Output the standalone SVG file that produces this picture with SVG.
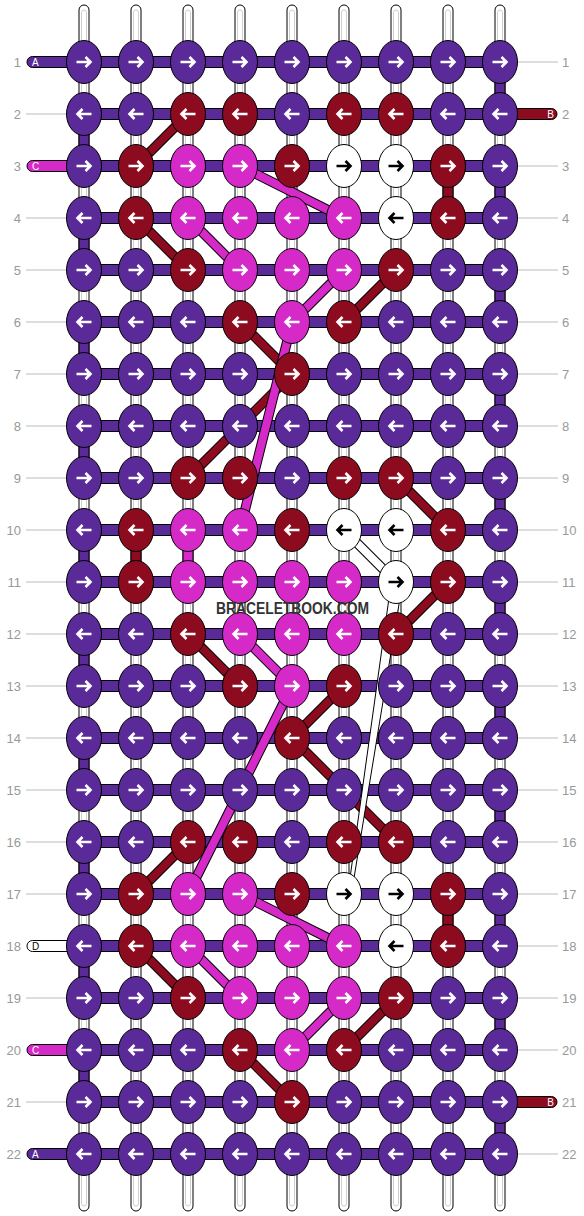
<svg xmlns="http://www.w3.org/2000/svg" xmlns:xlink="http://www.w3.org/1999/xlink" width="584" height="1216" viewBox="0 0 584 1216">
<style>
.tube{fill:#fff;stroke:#000;stroke-width:1}
.tin{fill:none;stroke:#cfcfcf;stroke-width:1}
.gl{stroke:#bbb;stroke-width:1}
.bar{fill:#5a2a98;stroke:#000;stroke-width:1}
.vp{fill:#5a2a98;stroke:#000;stroke-width:1}
.vr{fill:#8c0b1f;stroke:#000;stroke-width:1}
.vm{fill:#d52ac8;stroke:#000;stroke-width:1}
.o{stroke:#000;stroke-width:10;stroke-linecap:butt}
.dr{stroke:#8c0b1f;stroke-width:8}
.dm{stroke:#d52ac8;stroke-width:8}
.dw{stroke:#fff;stroke-width:8}
.num{font-family:"Liberation Sans",Arial,sans-serif;font-size:13px;fill:#999}
.lt{font-family:"Liberation Sans",Arial,sans-serif;font-size:10px;fill:#fff}
.wm{font-family:"Liberation Sans",Arial,sans-serif;font-size:16px;font-weight:bold;fill:#333}
</style>
<defs>
<ellipse id="P" rx="17.5" ry="21.5" fill="#5a2a98" stroke="#000"/>
<ellipse id="R" rx="17.5" ry="21.5" fill="#8c0b1f" stroke="#000"/>
<ellipse id="M" rx="17.5" ry="21.5" fill="#d52ac8" stroke="#000"/>
<ellipse id="W" rx="17.5" ry="21.5" fill="#fff" stroke="#000"/>
<path id="rw" d="M-7.5,0H6.5M1.5,-5L6.5,0L1.5,5" fill="none" stroke="#fff" stroke-width="2.6"/>
<path id="lw" d="M7.5,0H-6.5M-1.5,-5L-6.5,0L-1.5,5" fill="none" stroke="#fff" stroke-width="2.6"/>
<path id="rb" d="M-7.5,0H6.5M1.5,-5L6.5,0L1.5,5" fill="none" stroke="#000" stroke-width="2.6"/>
<path id="lb" d="M7.5,0H-6.5M-1.5,-5L-6.5,0L-1.5,5" fill="none" stroke="#000" stroke-width="2.6"/>
</defs>
<rect width="584" height="1216" fill="#fff"/>
<g id="strands">
<rect class="tube" x="79" y="5" width="10" height="1206" rx="5"/><rect class="tin" x="81.5" y="10" width="5" height="1196" rx="2.5"/>
<rect class="tube" x="131" y="5" width="10" height="1206" rx="5"/><rect class="tin" x="133.5" y="10" width="5" height="1196" rx="2.5"/>
<rect class="tube" x="183" y="5" width="10" height="1206" rx="5"/><rect class="tin" x="185.5" y="10" width="5" height="1196" rx="2.5"/>
<rect class="tube" x="235" y="5" width="10" height="1206" rx="5"/><rect class="tin" x="237.5" y="10" width="5" height="1196" rx="2.5"/>
<rect class="tube" x="287" y="5" width="10" height="1206" rx="5"/><rect class="tin" x="289.5" y="10" width="5" height="1196" rx="2.5"/>
<rect class="tube" x="339" y="5" width="10" height="1206" rx="5"/><rect class="tin" x="341.5" y="10" width="5" height="1196" rx="2.5"/>
<rect class="tube" x="391" y="5" width="10" height="1206" rx="5"/><rect class="tin" x="393.5" y="10" width="5" height="1196" rx="2.5"/>
<rect class="tube" x="443" y="5" width="10" height="1206" rx="5"/><rect class="tin" x="445.5" y="10" width="5" height="1196" rx="2.5"/>
<rect class="tube" x="495" y="5" width="10" height="1206" rx="5"/><rect class="tin" x="497.5" y="10" width="5" height="1196" rx="2.5"/>
</g>
<g id="guides">
<line class="gl" x1="26" y1="114" x2="67" y2="114"/><line class="gl" x1="26" y1="218" x2="67" y2="218"/><line class="gl" x1="26" y1="270" x2="67" y2="270"/><line class="gl" x1="26" y1="322" x2="67" y2="322"/><line class="gl" x1="26" y1="374" x2="67" y2="374"/><line class="gl" x1="26" y1="426" x2="67" y2="426"/><line class="gl" x1="26" y1="478" x2="67" y2="478"/><line class="gl" x1="26" y1="530" x2="67" y2="530"/><line class="gl" x1="26" y1="582" x2="67" y2="582"/><line class="gl" x1="26" y1="634" x2="67" y2="634"/><line class="gl" x1="26" y1="686" x2="67" y2="686"/><line class="gl" x1="26" y1="738" x2="67" y2="738"/><line class="gl" x1="26" y1="790" x2="67" y2="790"/><line class="gl" x1="26" y1="842" x2="67" y2="842"/><line class="gl" x1="26" y1="894" x2="67" y2="894"/><line class="gl" x1="26" y1="998" x2="67" y2="998"/><line class="gl" x1="26" y1="1102" x2="67" y2="1102"/>
<line class="gl" x1="517" y1="62" x2="558" y2="62"/><line class="gl" x1="517" y1="166" x2="558" y2="166"/><line class="gl" x1="517" y1="218" x2="558" y2="218"/><line class="gl" x1="517" y1="270" x2="558" y2="270"/><line class="gl" x1="517" y1="322" x2="558" y2="322"/><line class="gl" x1="517" y1="374" x2="558" y2="374"/><line class="gl" x1="517" y1="426" x2="558" y2="426"/><line class="gl" x1="517" y1="478" x2="558" y2="478"/><line class="gl" x1="517" y1="530" x2="558" y2="530"/><line class="gl" x1="517" y1="582" x2="558" y2="582"/><line class="gl" x1="517" y1="634" x2="558" y2="634"/><line class="gl" x1="517" y1="686" x2="558" y2="686"/><line class="gl" x1="517" y1="738" x2="558" y2="738"/><line class="gl" x1="517" y1="790" x2="558" y2="790"/><line class="gl" x1="517" y1="842" x2="558" y2="842"/><line class="gl" x1="517" y1="894" x2="558" y2="894"/><line class="gl" x1="517" y1="946" x2="558" y2="946"/><line class="gl" x1="517" y1="998" x2="558" y2="998"/><line class="gl" x1="517" y1="1050" x2="558" y2="1050"/><line class="gl" x1="517" y1="1154" x2="558" y2="1154"/>
</g>
<g id="labels">
<g id="lab-A1"><path d="M84,56.5H32.5a5.5,5.5 0 0 0 0,11H84Z" fill="#5a2a98" stroke="#000"/><text class="lt" x="32" y="66">A</text></g>
<g id="lab-C3"><path d="M84,160.5H32.5a5.5,5.5 0 0 0 0,11H84Z" fill="#d52ac8" stroke="#000"/><text class="lt" x="32" y="170">C</text></g>
<g id="lab-D18"><path d="M84,940.5H32.5a5.5,5.5 0 0 0 0,11H84Z" fill="#fff" stroke="#000"/><text class="lt" x="32" y="950" style="fill:#000">D</text></g>
<g id="lab-C20"><path d="M84,1044.5H32.5a5.5,5.5 0 0 0 0,11H84Z" fill="#d52ac8" stroke="#000"/><text class="lt" x="32" y="1054">C</text></g>
<g id="lab-A22"><path d="M84,1148.5H32.5a5.5,5.5 0 0 0 0,11H84Z" fill="#5a2a98" stroke="#000"/><text class="lt" x="32" y="1158">A</text></g>
<g id="lab-B2"><path d="M500,108.5H551.5a5.5,5.5 0 0 1 0,11H500Z" fill="#8c0b1f" stroke="#000"/><text class="lt" x="554" y="118" text-anchor="end">B</text></g>
<g id="lab-B21"><path d="M500,1096.5H551.5a5.5,5.5 0 0 1 0,11H500Z" fill="#8c0b1f" stroke="#000"/><text class="lt" x="554" y="1106" text-anchor="end">B</text></g>
</g>
<g id="connectors">
<rect class="bar" x="84" y="56.5" width="416" height="11"/><rect class="bar" x="84" y="108.5" width="416" height="11"/><rect class="bar" x="84" y="160.5" width="416" height="11"/><rect class="bar" x="84" y="212.5" width="416" height="11"/><rect class="bar" x="84" y="264.5" width="416" height="11"/><rect class="bar" x="84" y="316.5" width="416" height="11"/><rect class="bar" x="84" y="368.5" width="416" height="11"/><rect class="bar" x="84" y="420.5" width="416" height="11"/><rect class="bar" x="84" y="472.5" width="416" height="11"/><rect class="bar" x="84" y="524.5" width="416" height="11"/><rect class="bar" x="84" y="576.5" width="416" height="11"/><rect class="bar" x="84" y="628.5" width="416" height="11"/><rect class="bar" x="84" y="680.5" width="416" height="11"/><rect class="bar" x="84" y="732.5" width="416" height="11"/><rect class="bar" x="84" y="784.5" width="416" height="11"/><rect class="bar" x="84" y="836.5" width="416" height="11"/><rect class="bar" x="84" y="888.5" width="416" height="11"/><rect class="bar" x="84" y="940.5" width="416" height="11"/><rect class="bar" x="84" y="992.5" width="416" height="11"/><rect class="bar" x="84" y="1044.5" width="416" height="11"/><rect class="bar" x="84" y="1096.5" width="416" height="11"/><rect class="bar" x="84" y="1148.5" width="416" height="11"/>
<rect class="vp" x="495" y="80" width="10" height="16"/><rect class="vp" x="495" y="184" width="10" height="16"/><rect class="vp" x="495" y="288" width="10" height="16"/><rect class="vp" x="495" y="392" width="10" height="16"/><rect class="vp" x="495" y="496" width="10" height="16"/><rect class="vp" x="495" y="600" width="10" height="16"/><rect class="vp" x="495" y="704" width="10" height="16"/><rect class="vp" x="495" y="808" width="10" height="16"/><rect class="vp" x="495" y="912" width="10" height="16"/><rect class="vp" x="495" y="1016" width="10" height="16"/><rect class="vp" x="495" y="1120" width="10" height="16"/>
<rect class="vp" x="79" y="132" width="10" height="16"/><rect class="vp" x="79" y="236" width="10" height="16"/><rect class="vp" x="79" y="340" width="10" height="16"/><rect class="vp" x="79" y="444" width="10" height="16"/><rect class="vp" x="79" y="548" width="10" height="16"/><rect class="vp" x="79" y="652" width="10" height="16"/><rect class="vp" x="79" y="756" width="10" height="16"/><rect class="vp" x="79" y="860" width="10" height="16"/><rect class="vp" x="79" y="964" width="10" height="16"/><rect class="vp" x="79" y="1068" width="10" height="16"/>
<rect class="vr" x="443" y="184" width="10" height="16"/><rect class="vr" x="443" y="912" width="10" height="16"/><rect class="vr" x="131" y="548" width="10" height="16"/><rect class="vm" x="183" y="548" width="10" height="16"/>
<g id="diag-red">
<line class="o" x1="188" y1="114" x2="136" y2="166"/><line class="o" x1="136" y1="218" x2="188" y2="270"/><line class="o" x1="240" y1="322" x2="292" y2="374"/><line class="o" x1="396" y1="270" x2="344" y2="322"/><line class="o" x1="292" y1="374" x2="188" y2="478"/><line class="o" x1="396" y1="478" x2="448" y2="530"/><line class="o" x1="448" y1="582" x2="396" y2="634"/><line class="o" x1="188" y1="634" x2="240" y2="686"/><line class="o" x1="344" y1="686" x2="292" y2="738"/><line class="o" x1="292" y1="738" x2="396" y2="842"/><line class="o" x1="188" y1="842" x2="136" y2="894"/><line class="o" x1="136" y1="946" x2="188" y2="998"/><line class="o" x1="396" y1="998" x2="344" y2="1050"/><line class="o" x1="240" y1="1050" x2="292" y2="1102"/>
<line class="dr" x1="188" y1="114" x2="136" y2="166"/><line class="dr" x1="136" y1="218" x2="188" y2="270"/><line class="dr" x1="240" y1="322" x2="292" y2="374"/><line class="dr" x1="396" y1="270" x2="344" y2="322"/><line class="dr" x1="292" y1="374" x2="188" y2="478"/><line class="dr" x1="396" y1="478" x2="448" y2="530"/><line class="dr" x1="448" y1="582" x2="396" y2="634"/><line class="dr" x1="188" y1="634" x2="240" y2="686"/><line class="dr" x1="344" y1="686" x2="292" y2="738"/><line class="dr" x1="292" y1="738" x2="396" y2="842"/><line class="dr" x1="188" y1="842" x2="136" y2="894"/><line class="dr" x1="136" y1="946" x2="188" y2="998"/><line class="dr" x1="396" y1="998" x2="344" y2="1050"/><line class="dr" x1="240" y1="1050" x2="292" y2="1102"/>
</g>
<g id="diag-magenta">
<line class="o" x1="240" y1="166" x2="344" y2="218"/><line class="o" x1="188" y1="218" x2="240" y2="270"/><line class="o" x1="344" y1="270" x2="292" y2="322"/><line class="o" x1="292" y1="322" x2="240" y2="530"/><line class="o" x1="240" y1="634" x2="292" y2="686"/><line class="o" x1="292" y1="686" x2="188" y2="894"/><line class="o" x1="240" y1="894" x2="344" y2="946"/><line class="o" x1="188" y1="946" x2="240" y2="998"/><line class="o" x1="344" y1="998" x2="292" y2="1050"/>
<line class="dm" x1="240" y1="166" x2="344" y2="218"/><line class="dm" x1="188" y1="218" x2="240" y2="270"/><line class="dm" x1="344" y1="270" x2="292" y2="322"/><line class="dm" x1="292" y1="322" x2="240" y2="530"/><line class="dm" x1="240" y1="634" x2="292" y2="686"/><line class="dm" x1="292" y1="686" x2="188" y2="894"/><line class="dm" x1="240" y1="894" x2="344" y2="946"/><line class="dm" x1="188" y1="946" x2="240" y2="998"/><line class="dm" x1="344" y1="998" x2="292" y2="1050"/>
</g>
<g id="diag-white">
<line class="o" x1="344" y1="530" x2="396" y2="582"/><line class="dw" x1="344" y1="530" x2="396" y2="582"/>
<polygon points="389,598 400,598 354,878 350,878" fill="#fff" stroke="#000" stroke-width="1"/>
</g>
</g>
<g id="knots">
<g id="k1_1"><use href="#P" x="84" y="62"/><use href="#rw" x="84" y="62"/></g><g id="k1_2"><use href="#P" x="136" y="62"/><use href="#rw" x="136" y="62"/></g><g id="k1_3"><use href="#P" x="188" y="62"/><use href="#rw" x="188" y="62"/></g><g id="k1_4"><use href="#P" x="240" y="62"/><use href="#rw" x="240" y="62"/></g><g id="k1_5"><use href="#P" x="292" y="62"/><use href="#rw" x="292" y="62"/></g><g id="k1_6"><use href="#P" x="344" y="62"/><use href="#rw" x="344" y="62"/></g><g id="k1_7"><use href="#P" x="396" y="62"/><use href="#rw" x="396" y="62"/></g><g id="k1_8"><use href="#P" x="448" y="62"/><use href="#rw" x="448" y="62"/></g><g id="k1_9"><use href="#P" x="500" y="62"/><use href="#rw" x="500" y="62"/></g>
<g id="k2_1"><use href="#P" x="84" y="114"/><use href="#lw" x="84" y="114"/></g><g id="k2_2"><use href="#P" x="136" y="114"/><use href="#lw" x="136" y="114"/></g><g id="k2_3"><use href="#R" x="188" y="114"/><use href="#lw" x="188" y="114"/></g><g id="k2_4"><use href="#R" x="240" y="114"/><use href="#lw" x="240" y="114"/></g><g id="k2_5"><use href="#P" x="292" y="114"/><use href="#lw" x="292" y="114"/></g><g id="k2_6"><use href="#R" x="344" y="114"/><use href="#lw" x="344" y="114"/></g><g id="k2_7"><use href="#R" x="396" y="114"/><use href="#lw" x="396" y="114"/></g><g id="k2_8"><use href="#P" x="448" y="114"/><use href="#lw" x="448" y="114"/></g><g id="k2_9"><use href="#P" x="500" y="114"/><use href="#lw" x="500" y="114"/></g>
<g id="k3_1"><use href="#P" x="84" y="166"/><use href="#rw" x="84" y="166"/></g><g id="k3_2"><use href="#R" x="136" y="166"/><use href="#rw" x="136" y="166"/></g><g id="k3_3"><use href="#M" x="188" y="166"/><use href="#rw" x="188" y="166"/></g><g id="k3_4"><use href="#M" x="240" y="166"/><use href="#rw" x="240" y="166"/></g><g id="k3_5"><use href="#R" x="292" y="166"/><use href="#rw" x="292" y="166"/></g><g id="k3_6"><use href="#W" x="344" y="166"/><use href="#rb" x="344" y="166"/></g><g id="k3_7"><use href="#W" x="396" y="166"/><use href="#rb" x="396" y="166"/></g><g id="k3_8"><use href="#R" x="448" y="166"/><use href="#rw" x="448" y="166"/></g><g id="k3_9"><use href="#P" x="500" y="166"/><use href="#rw" x="500" y="166"/></g>
<g id="k4_1"><use href="#P" x="84" y="218"/><use href="#lw" x="84" y="218"/></g><g id="k4_2"><use href="#R" x="136" y="218"/><use href="#lw" x="136" y="218"/></g><g id="k4_3"><use href="#M" x="188" y="218"/><use href="#lw" x="188" y="218"/></g><g id="k4_4"><use href="#M" x="240" y="218"/><use href="#lw" x="240" y="218"/></g><g id="k4_5"><use href="#M" x="292" y="218"/><use href="#lw" x="292" y="218"/></g><g id="k4_6"><use href="#M" x="344" y="218"/><use href="#lw" x="344" y="218"/></g><g id="k4_7"><use href="#W" x="396" y="218"/><use href="#lb" x="396" y="218"/></g><g id="k4_8"><use href="#R" x="448" y="218"/><use href="#lw" x="448" y="218"/></g><g id="k4_9"><use href="#P" x="500" y="218"/><use href="#lw" x="500" y="218"/></g>
<g id="k5_1"><use href="#P" x="84" y="270"/><use href="#rw" x="84" y="270"/></g><g id="k5_2"><use href="#P" x="136" y="270"/><use href="#rw" x="136" y="270"/></g><g id="k5_3"><use href="#R" x="188" y="270"/><use href="#rw" x="188" y="270"/></g><g id="k5_4"><use href="#M" x="240" y="270"/><use href="#rw" x="240" y="270"/></g><g id="k5_5"><use href="#M" x="292" y="270"/><use href="#rw" x="292" y="270"/></g><g id="k5_6"><use href="#M" x="344" y="270"/><use href="#rw" x="344" y="270"/></g><g id="k5_7"><use href="#R" x="396" y="270"/><use href="#rw" x="396" y="270"/></g><g id="k5_8"><use href="#P" x="448" y="270"/><use href="#rw" x="448" y="270"/></g><g id="k5_9"><use href="#P" x="500" y="270"/><use href="#rw" x="500" y="270"/></g>
<g id="k6_1"><use href="#P" x="84" y="322"/><use href="#lw" x="84" y="322"/></g><g id="k6_2"><use href="#P" x="136" y="322"/><use href="#lw" x="136" y="322"/></g><g id="k6_3"><use href="#P" x="188" y="322"/><use href="#lw" x="188" y="322"/></g><g id="k6_4"><use href="#R" x="240" y="322"/><use href="#lw" x="240" y="322"/></g><g id="k6_5"><use href="#M" x="292" y="322"/><use href="#lw" x="292" y="322"/></g><g id="k6_6"><use href="#R" x="344" y="322"/><use href="#lw" x="344" y="322"/></g><g id="k6_7"><use href="#P" x="396" y="322"/><use href="#lw" x="396" y="322"/></g><g id="k6_8"><use href="#P" x="448" y="322"/><use href="#lw" x="448" y="322"/></g><g id="k6_9"><use href="#P" x="500" y="322"/><use href="#lw" x="500" y="322"/></g>
<g id="k7_1"><use href="#P" x="84" y="374"/><use href="#rw" x="84" y="374"/></g><g id="k7_2"><use href="#P" x="136" y="374"/><use href="#rw" x="136" y="374"/></g><g id="k7_3"><use href="#P" x="188" y="374"/><use href="#rw" x="188" y="374"/></g><g id="k7_4"><use href="#P" x="240" y="374"/><use href="#rw" x="240" y="374"/></g><g id="k7_5"><use href="#R" x="292" y="374"/><use href="#rw" x="292" y="374"/></g><g id="k7_6"><use href="#P" x="344" y="374"/><use href="#rw" x="344" y="374"/></g><g id="k7_7"><use href="#P" x="396" y="374"/><use href="#rw" x="396" y="374"/></g><g id="k7_8"><use href="#P" x="448" y="374"/><use href="#rw" x="448" y="374"/></g><g id="k7_9"><use href="#P" x="500" y="374"/><use href="#rw" x="500" y="374"/></g>
<g id="k8_1"><use href="#P" x="84" y="426"/><use href="#lw" x="84" y="426"/></g><g id="k8_2"><use href="#P" x="136" y="426"/><use href="#lw" x="136" y="426"/></g><g id="k8_3"><use href="#P" x="188" y="426"/><use href="#lw" x="188" y="426"/></g><g id="k8_4"><use href="#P" x="240" y="426"/><use href="#lw" x="240" y="426"/></g><g id="k8_5"><use href="#P" x="292" y="426"/><use href="#lw" x="292" y="426"/></g><g id="k8_6"><use href="#P" x="344" y="426"/><use href="#lw" x="344" y="426"/></g><g id="k8_7"><use href="#P" x="396" y="426"/><use href="#lw" x="396" y="426"/></g><g id="k8_8"><use href="#P" x="448" y="426"/><use href="#lw" x="448" y="426"/></g><g id="k8_9"><use href="#P" x="500" y="426"/><use href="#lw" x="500" y="426"/></g>
<g id="k9_1"><use href="#P" x="84" y="478"/><use href="#rw" x="84" y="478"/></g><g id="k9_2"><use href="#P" x="136" y="478"/><use href="#rw" x="136" y="478"/></g><g id="k9_3"><use href="#R" x="188" y="478"/><use href="#rw" x="188" y="478"/></g><g id="k9_4"><use href="#R" x="240" y="478"/><use href="#rw" x="240" y="478"/></g><g id="k9_5"><use href="#P" x="292" y="478"/><use href="#rw" x="292" y="478"/></g><g id="k9_6"><use href="#R" x="344" y="478"/><use href="#rw" x="344" y="478"/></g><g id="k9_7"><use href="#R" x="396" y="478"/><use href="#rw" x="396" y="478"/></g><g id="k9_8"><use href="#P" x="448" y="478"/><use href="#rw" x="448" y="478"/></g><g id="k9_9"><use href="#P" x="500" y="478"/><use href="#rw" x="500" y="478"/></g>
<g id="k10_1"><use href="#P" x="84" y="530"/><use href="#lw" x="84" y="530"/></g><g id="k10_2"><use href="#R" x="136" y="530"/><use href="#lw" x="136" y="530"/></g><g id="k10_3"><use href="#M" x="188" y="530"/><use href="#lw" x="188" y="530"/></g><g id="k10_4"><use href="#M" x="240" y="530"/><use href="#lw" x="240" y="530"/></g><g id="k10_5"><use href="#R" x="292" y="530"/><use href="#lw" x="292" y="530"/></g><g id="k10_6"><use href="#W" x="344" y="530"/><use href="#lb" x="344" y="530"/></g><g id="k10_7"><use href="#W" x="396" y="530"/><use href="#lb" x="396" y="530"/></g><g id="k10_8"><use href="#R" x="448" y="530"/><use href="#lw" x="448" y="530"/></g><g id="k10_9"><use href="#P" x="500" y="530"/><use href="#lw" x="500" y="530"/></g>
<g id="k11_1"><use href="#P" x="84" y="582"/><use href="#rw" x="84" y="582"/></g><g id="k11_2"><use href="#R" x="136" y="582"/><use href="#rw" x="136" y="582"/></g><g id="k11_3"><use href="#M" x="188" y="582"/><use href="#rw" x="188" y="582"/></g><g id="k11_4"><use href="#M" x="240" y="582"/><use href="#rw" x="240" y="582"/></g><g id="k11_5"><use href="#M" x="292" y="582"/><use href="#rw" x="292" y="582"/></g><g id="k11_6"><use href="#M" x="344" y="582"/><use href="#rw" x="344" y="582"/></g><g id="k11_7"><use href="#W" x="396" y="582"/><use href="#rb" x="396" y="582"/></g><g id="k11_8"><use href="#R" x="448" y="582"/><use href="#rw" x="448" y="582"/></g><g id="k11_9"><use href="#P" x="500" y="582"/><use href="#rw" x="500" y="582"/></g>
<g id="k12_1"><use href="#P" x="84" y="634"/><use href="#lw" x="84" y="634"/></g><g id="k12_2"><use href="#P" x="136" y="634"/><use href="#lw" x="136" y="634"/></g><g id="k12_3"><use href="#R" x="188" y="634"/><use href="#lw" x="188" y="634"/></g><g id="k12_4"><use href="#M" x="240" y="634"/><use href="#lw" x="240" y="634"/></g><g id="k12_5"><use href="#M" x="292" y="634"/><use href="#lw" x="292" y="634"/></g><g id="k12_6"><use href="#M" x="344" y="634"/><use href="#lw" x="344" y="634"/></g><g id="k12_7"><use href="#R" x="396" y="634"/><use href="#lw" x="396" y="634"/></g><g id="k12_8"><use href="#P" x="448" y="634"/><use href="#lw" x="448" y="634"/></g><g id="k12_9"><use href="#P" x="500" y="634"/><use href="#lw" x="500" y="634"/></g>
<g id="k13_1"><use href="#P" x="84" y="686"/><use href="#rw" x="84" y="686"/></g><g id="k13_2"><use href="#P" x="136" y="686"/><use href="#rw" x="136" y="686"/></g><g id="k13_3"><use href="#P" x="188" y="686"/><use href="#rw" x="188" y="686"/></g><g id="k13_4"><use href="#R" x="240" y="686"/><use href="#rw" x="240" y="686"/></g><g id="k13_5"><use href="#M" x="292" y="686"/><use href="#rw" x="292" y="686"/></g><g id="k13_6"><use href="#R" x="344" y="686"/><use href="#rw" x="344" y="686"/></g><g id="k13_7"><use href="#P" x="396" y="686"/><use href="#rw" x="396" y="686"/></g><g id="k13_8"><use href="#P" x="448" y="686"/><use href="#rw" x="448" y="686"/></g><g id="k13_9"><use href="#P" x="500" y="686"/><use href="#rw" x="500" y="686"/></g>
<g id="k14_1"><use href="#P" x="84" y="738"/><use href="#lw" x="84" y="738"/></g><g id="k14_2"><use href="#P" x="136" y="738"/><use href="#lw" x="136" y="738"/></g><g id="k14_3"><use href="#P" x="188" y="738"/><use href="#lw" x="188" y="738"/></g><g id="k14_4"><use href="#P" x="240" y="738"/><use href="#lw" x="240" y="738"/></g><g id="k14_5"><use href="#R" x="292" y="738"/><use href="#lw" x="292" y="738"/></g><g id="k14_6"><use href="#P" x="344" y="738"/><use href="#lw" x="344" y="738"/></g><g id="k14_7"><use href="#P" x="396" y="738"/><use href="#lw" x="396" y="738"/></g><g id="k14_8"><use href="#P" x="448" y="738"/><use href="#lw" x="448" y="738"/></g><g id="k14_9"><use href="#P" x="500" y="738"/><use href="#lw" x="500" y="738"/></g>
<g id="k15_1"><use href="#P" x="84" y="790"/><use href="#rw" x="84" y="790"/></g><g id="k15_2"><use href="#P" x="136" y="790"/><use href="#rw" x="136" y="790"/></g><g id="k15_3"><use href="#P" x="188" y="790"/><use href="#rw" x="188" y="790"/></g><g id="k15_4"><use href="#P" x="240" y="790"/><use href="#rw" x="240" y="790"/></g><g id="k15_5"><use href="#P" x="292" y="790"/><use href="#rw" x="292" y="790"/></g><g id="k15_6"><use href="#P" x="344" y="790"/><use href="#rw" x="344" y="790"/></g><g id="k15_7"><use href="#P" x="396" y="790"/><use href="#rw" x="396" y="790"/></g><g id="k15_8"><use href="#P" x="448" y="790"/><use href="#rw" x="448" y="790"/></g><g id="k15_9"><use href="#P" x="500" y="790"/><use href="#rw" x="500" y="790"/></g>
<g id="k16_1"><use href="#P" x="84" y="842"/><use href="#lw" x="84" y="842"/></g><g id="k16_2"><use href="#P" x="136" y="842"/><use href="#lw" x="136" y="842"/></g><g id="k16_3"><use href="#R" x="188" y="842"/><use href="#lw" x="188" y="842"/></g><g id="k16_4"><use href="#R" x="240" y="842"/><use href="#lw" x="240" y="842"/></g><g id="k16_5"><use href="#P" x="292" y="842"/><use href="#lw" x="292" y="842"/></g><g id="k16_6"><use href="#R" x="344" y="842"/><use href="#lw" x="344" y="842"/></g><g id="k16_7"><use href="#R" x="396" y="842"/><use href="#lw" x="396" y="842"/></g><g id="k16_8"><use href="#P" x="448" y="842"/><use href="#lw" x="448" y="842"/></g><g id="k16_9"><use href="#P" x="500" y="842"/><use href="#lw" x="500" y="842"/></g>
<g id="k17_1"><use href="#P" x="84" y="894"/><use href="#rw" x="84" y="894"/></g><g id="k17_2"><use href="#R" x="136" y="894"/><use href="#rw" x="136" y="894"/></g><g id="k17_3"><use href="#M" x="188" y="894"/><use href="#rw" x="188" y="894"/></g><g id="k17_4"><use href="#M" x="240" y="894"/><use href="#rw" x="240" y="894"/></g><g id="k17_5"><use href="#R" x="292" y="894"/><use href="#rw" x="292" y="894"/></g><g id="k17_6"><use href="#W" x="344" y="894"/><use href="#rb" x="344" y="894"/></g><g id="k17_7"><use href="#W" x="396" y="894"/><use href="#rb" x="396" y="894"/></g><g id="k17_8"><use href="#R" x="448" y="894"/><use href="#rw" x="448" y="894"/></g><g id="k17_9"><use href="#P" x="500" y="894"/><use href="#rw" x="500" y="894"/></g>
<g id="k18_1"><use href="#P" x="84" y="946"/><use href="#lw" x="84" y="946"/></g><g id="k18_2"><use href="#R" x="136" y="946"/><use href="#lw" x="136" y="946"/></g><g id="k18_3"><use href="#M" x="188" y="946"/><use href="#lw" x="188" y="946"/></g><g id="k18_4"><use href="#M" x="240" y="946"/><use href="#lw" x="240" y="946"/></g><g id="k18_5"><use href="#M" x="292" y="946"/><use href="#lw" x="292" y="946"/></g><g id="k18_6"><use href="#M" x="344" y="946"/><use href="#lw" x="344" y="946"/></g><g id="k18_7"><use href="#W" x="396" y="946"/><use href="#lb" x="396" y="946"/></g><g id="k18_8"><use href="#R" x="448" y="946"/><use href="#lw" x="448" y="946"/></g><g id="k18_9"><use href="#P" x="500" y="946"/><use href="#lw" x="500" y="946"/></g>
<g id="k19_1"><use href="#P" x="84" y="998"/><use href="#rw" x="84" y="998"/></g><g id="k19_2"><use href="#P" x="136" y="998"/><use href="#rw" x="136" y="998"/></g><g id="k19_3"><use href="#R" x="188" y="998"/><use href="#rw" x="188" y="998"/></g><g id="k19_4"><use href="#M" x="240" y="998"/><use href="#rw" x="240" y="998"/></g><g id="k19_5"><use href="#M" x="292" y="998"/><use href="#rw" x="292" y="998"/></g><g id="k19_6"><use href="#M" x="344" y="998"/><use href="#rw" x="344" y="998"/></g><g id="k19_7"><use href="#R" x="396" y="998"/><use href="#rw" x="396" y="998"/></g><g id="k19_8"><use href="#P" x="448" y="998"/><use href="#rw" x="448" y="998"/></g><g id="k19_9"><use href="#P" x="500" y="998"/><use href="#rw" x="500" y="998"/></g>
<g id="k20_1"><use href="#P" x="84" y="1050"/><use href="#lw" x="84" y="1050"/></g><g id="k20_2"><use href="#P" x="136" y="1050"/><use href="#lw" x="136" y="1050"/></g><g id="k20_3"><use href="#P" x="188" y="1050"/><use href="#lw" x="188" y="1050"/></g><g id="k20_4"><use href="#R" x="240" y="1050"/><use href="#lw" x="240" y="1050"/></g><g id="k20_5"><use href="#M" x="292" y="1050"/><use href="#lw" x="292" y="1050"/></g><g id="k20_6"><use href="#R" x="344" y="1050"/><use href="#lw" x="344" y="1050"/></g><g id="k20_7"><use href="#P" x="396" y="1050"/><use href="#lw" x="396" y="1050"/></g><g id="k20_8"><use href="#P" x="448" y="1050"/><use href="#lw" x="448" y="1050"/></g><g id="k20_9"><use href="#P" x="500" y="1050"/><use href="#lw" x="500" y="1050"/></g>
<g id="k21_1"><use href="#P" x="84" y="1102"/><use href="#rw" x="84" y="1102"/></g><g id="k21_2"><use href="#P" x="136" y="1102"/><use href="#rw" x="136" y="1102"/></g><g id="k21_3"><use href="#P" x="188" y="1102"/><use href="#rw" x="188" y="1102"/></g><g id="k21_4"><use href="#P" x="240" y="1102"/><use href="#rw" x="240" y="1102"/></g><g id="k21_5"><use href="#R" x="292" y="1102"/><use href="#rw" x="292" y="1102"/></g><g id="k21_6"><use href="#P" x="344" y="1102"/><use href="#rw" x="344" y="1102"/></g><g id="k21_7"><use href="#P" x="396" y="1102"/><use href="#rw" x="396" y="1102"/></g><g id="k21_8"><use href="#P" x="448" y="1102"/><use href="#rw" x="448" y="1102"/></g><g id="k21_9"><use href="#P" x="500" y="1102"/><use href="#rw" x="500" y="1102"/></g>
<g id="k22_1"><use href="#P" x="84" y="1154"/><use href="#lw" x="84" y="1154"/></g><g id="k22_2"><use href="#P" x="136" y="1154"/><use href="#lw" x="136" y="1154"/></g><g id="k22_3"><use href="#P" x="188" y="1154"/><use href="#lw" x="188" y="1154"/></g><g id="k22_4"><use href="#P" x="240" y="1154"/><use href="#lw" x="240" y="1154"/></g><g id="k22_5"><use href="#P" x="292" y="1154"/><use href="#lw" x="292" y="1154"/></g><g id="k22_6"><use href="#P" x="344" y="1154"/><use href="#lw" x="344" y="1154"/></g><g id="k22_7"><use href="#P" x="396" y="1154"/><use href="#lw" x="396" y="1154"/></g><g id="k22_8"><use href="#P" x="448" y="1154"/><use href="#lw" x="448" y="1154"/></g><g id="k22_9"><use href="#P" x="500" y="1154"/><use href="#lw" x="500" y="1154"/></g>
</g>
<text class="wm" x="292.5" y="613.5" text-anchor="middle" textLength="153" lengthAdjust="spacingAndGlyphs">BRACELETBOOK.COM</text>
<g id="rownums" class="num">
<text x="21" y="66.5" text-anchor="end">1</text><text x="21" y="118.5" text-anchor="end">2</text><text x="21" y="170.5" text-anchor="end">3</text><text x="21" y="222.5" text-anchor="end">4</text><text x="21" y="274.5" text-anchor="end">5</text><text x="21" y="326.5" text-anchor="end">6</text><text x="21" y="378.5" text-anchor="end">7</text><text x="21" y="430.5" text-anchor="end">8</text><text x="21" y="482.5" text-anchor="end">9</text><text x="21" y="534.5" text-anchor="end">10</text><text x="21" y="586.5" text-anchor="end">11</text><text x="21" y="638.5" text-anchor="end">12</text><text x="21" y="690.5" text-anchor="end">13</text><text x="21" y="742.5" text-anchor="end">14</text><text x="21" y="794.5" text-anchor="end">15</text><text x="21" y="846.5" text-anchor="end">16</text><text x="21" y="898.5" text-anchor="end">17</text><text x="21" y="950.5" text-anchor="end">18</text><text x="21" y="1002.5" text-anchor="end">19</text><text x="21" y="1054.5" text-anchor="end">20</text><text x="21" y="1106.5" text-anchor="end">21</text><text x="21" y="1158.5" text-anchor="end">22</text>
<text x="562" y="66.5">1</text><text x="562" y="118.5">2</text><text x="562" y="170.5">3</text><text x="562" y="222.5">4</text><text x="562" y="274.5">5</text><text x="562" y="326.5">6</text><text x="562" y="378.5">7</text><text x="562" y="430.5">8</text><text x="562" y="482.5">9</text><text x="562" y="534.5">10</text><text x="562" y="586.5">11</text><text x="562" y="638.5">12</text><text x="562" y="690.5">13</text><text x="562" y="742.5">14</text><text x="562" y="794.5">15</text><text x="562" y="846.5">16</text><text x="562" y="898.5">17</text><text x="562" y="950.5">18</text><text x="562" y="1002.5">19</text><text x="562" y="1054.5">20</text><text x="562" y="1106.5">21</text><text x="562" y="1158.5">22</text>
</g>
</svg>
